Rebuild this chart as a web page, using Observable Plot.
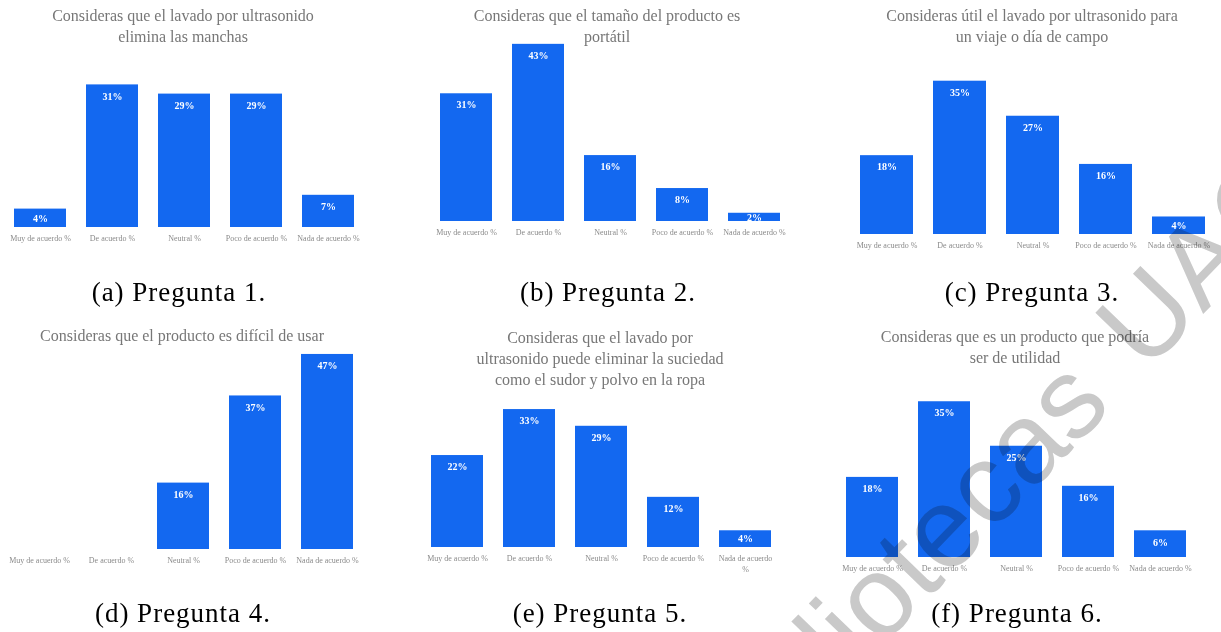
<!DOCTYPE html>
<html><head><meta charset="utf-8">
<script src="https://cdn.jsdelivr.net/npm/d3@7"></script>
<script src="https://cdn.jsdelivr.net/npm/@observablehq/plot@0.6"></script>
<style>
html,body{margin:0;padding:0;background:#fff;}
#root{position:relative;width:1221px;height:632px;overflow:hidden;background:#fff;}
.panel{position:absolute;}
.title{position:absolute;width:440px;text-align:center;font-family:"Liberation Serif",serif;font-size:16px;line-height:21px;color:#777;white-space:pre-line;}
.caption{position:absolute;width:320px;text-align:center;font-family:"Liberation Serif",serif;font-size:27px;letter-spacing:1px;color:#000;line-height:30px;white-space:nowrap;}
#wm{position:absolute;left:0;top:0;pointer-events:none;mix-blend-mode:multiply;}
</style></head><body><div id="root"></div>
<script>
// ---- data ----
const categories = ["Muy de acuerdo %", "De acuerdo %", "Neutral %", "Poco de acuerdo %", "Nada de acuerdo %"];
const pregunta1 = [4, 31, 29, 29, 7];
const pregunta2 = [31, 43, 16, 8, 2];
const pregunta3 = [18, 35, 27, 16, 4];
const pregunta4 = [0, 0, 16, 37, 47];
const pregunta5 = [22, 33, 29, 12, 4];
const pregunta6 = [18, 35, 25, 16, 6];
const titles = [
  "Consideras que el lavado por ultrasonido\nelimina las manchas",
  "Consideras que el tamaño del producto es\nportátil",
  "Consideras útil el lavado por ultrasonido para\nun viaje o día de campo",
  "Consideras que el producto es difícil de usar",
  "Consideras que el lavado por\nultrasonido puede eliminar la suciedad\ncomo el sudor y polvo en la ropa",
  "Consideras que es un producto que podría\nser de utilidad"
];
const captions = ["(a) Pregunta 1.", "(b) Pregunta 2.", "(c) Pregunta 3.", "(d) Pregunta 4.", "(e) Pregunta 5.", "(f) Pregunta 6."];
const watermark = "Bibliotecas UAQ";

// ---- layout (positions only) ----
const series = [pregunta1, pregunta2, pregunta3, pregunta4, pregunta5, pregunta6];
const layout = [
  {left: 0,   top: 0,   w: 400, h: 252, xr: [2.9, 364.1], base: 227, k: 4.6,  tcx: 183,  ttop: 4.5,   ccx: 179,  cbase: 301},
  {left: 410, top: 0,   w: 400, h: 252, xr: [18.8, 380.7], base: 221, k: 4.12, tcx: 607,  ttop: 4.5,   ccx: 608,  cbase: 301},
  {left: 820, top: 0,   w: 401, h: 252, xr: [30, 395],    base: 234, k: 4.38, tcx: 1032, ttop: 5,     ccx: 1032, cbase: 301},
  {left: 0,   top: 310, w: 400, h: 270, xr: [1.8, 363.2], base: 239, k: 4.15, tcx: 182,  ttop: 324.5, ccx: 183,  cbase: 622},
  {left: 410, top: 310, w: 400, h: 270, xr: [9.8, 371.7], base: 237, k: 4.18, tcx: 600,  ttop: 326.5, ccx: 600,  cbase: 622, wrapLast: true},
  {left: 820, top: 310, w: 401, h: 270, xr: [14, 378],    base: 247, k: 4.45, tcx: 1015, ttop: 325.5, ccx: 1017, cbase: 622}
];

const root = document.getElementById("root");

series.forEach((vals, i) => {
  const L = layout[i];
  const data = categories.map((c, j) => ({cat: c, v: vals[j]}));
  const chart = Plot.plot({
    width: L.w,
    height: L.h,
    marginTop: 0,
    marginLeft: 0,
    marginRight: 0,
    marginBottom: L.h - L.base,
    style: {fontFamily: "'Liberation Serif', serif", color: "#8a8a8a", background: "transparent", overflow: "visible"},
    x: {type: "band", domain: categories, range: L.xr, padding: 0.28, paddingOuter: 0.14, align: 0.5, label: null},
    y: {domain: [0, 50], range: [L.base, L.base - 50 * L.k], axis: null},
    marks: [
      Plot.barY(data, {x: "cat", y: "v", fill: "#1368f0"}),
      Plot.text(data.filter(d => d.v > 0), {
        x: "cat",
        y: d => Math.max(d.v - 11.5 / L.k, d.v / 2),
        text: d => d.v + "%", fill: "white", fontWeight: "bold", fontSize: 10
      }),
      Plot.axisX({tickSize: 0, tickPadding: 6, fontSize: 8, label: null, lineHeight: 1.35,
        tickFormat: d => (L.wrapLast && d === "Nada de acuerdo %") ? "Nada de acuerdo\n%" : d})
    ]
  });
  const div = document.createElement("div");
  div.className = "panel";
  div.style.left = L.left + "px";
  div.style.top = L.top + "px";
  div.appendChild(chart);
  root.appendChild(div);

  const t = document.createElement("div");
  t.className = "title";
  t.textContent = titles[i];
  t.style.left = (L.tcx - 220) + "px";
  t.style.top = L.ttop + "px";
  root.appendChild(t);

  const c = document.createElement("div");
  c.className = "caption";
  c.textContent = captions[i];
  c.style.left = (L.ccx - 160) + "px";
  c.style.top = (L.cbase - 24) + "px";
  root.appendChild(c);
});

// watermark overlay
const svg = d3.select(root).append("svg").attr("id", "wm").attr("width", 1221).attr("height", 632);
svg.append("text")
  .attr("transform", "translate(731,803) rotate(-46)")
  .attr("font-family", "'Liberation Sans', Arial, sans-serif")
  .attr("font-size", 114)
  .attr("word-spacing", 14)
  .attr("fill", "#c9c9c9")
  .text(watermark);
</script>
</body></html>
